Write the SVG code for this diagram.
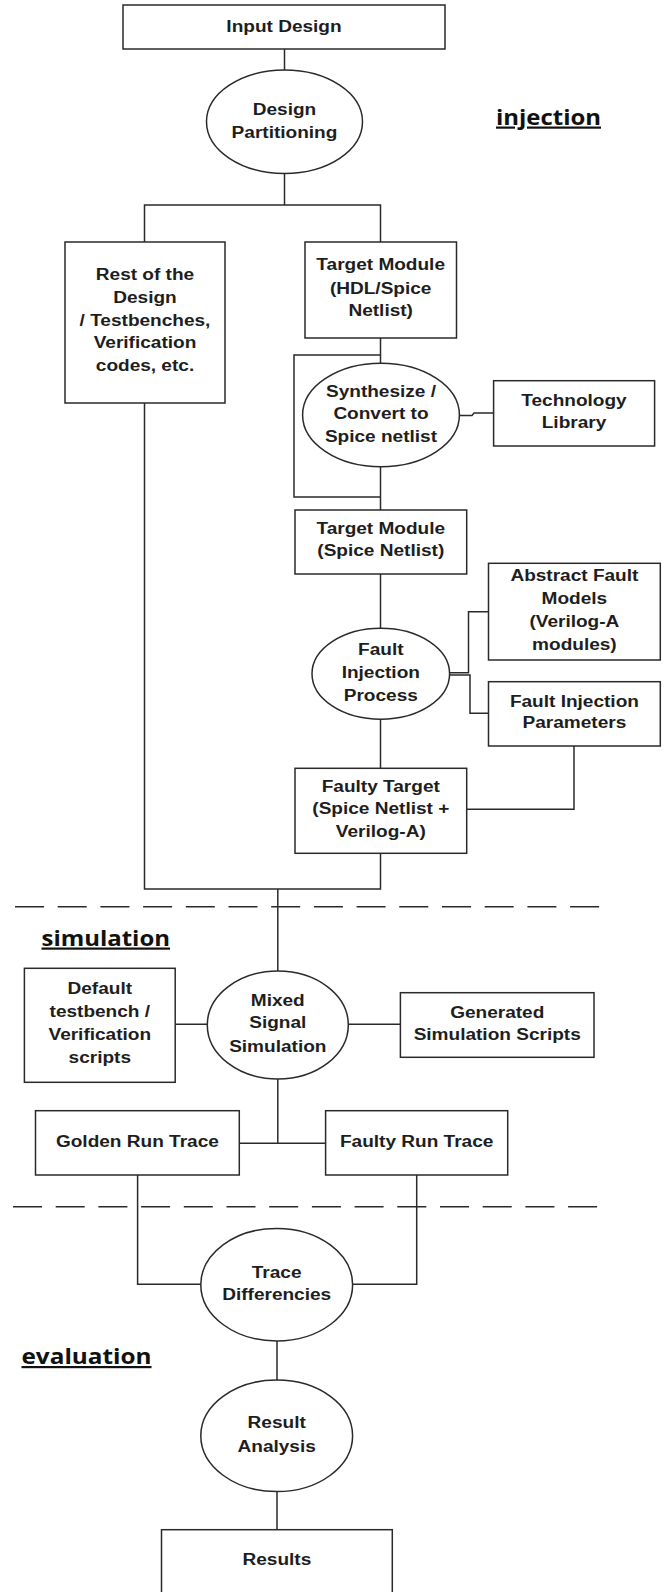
<svg xmlns="http://www.w3.org/2000/svg" width="670" height="1592" viewBox="0 0 670 1592">
<style>
.bg{fill:#ffffff}
.box{fill:#ffffff;stroke:#2a2a2a;stroke-width:1.5}
.conn{fill:none;stroke:#2a2a2a;stroke-width:1.5}
.sep{fill:none;stroke:#2a2a2a;stroke-width:1.5;stroke-dasharray:29 13.7}
.t{font-family:"Liberation Sans",Arial,sans-serif;font-weight:bold;font-size:16px;text-anchor:middle;fill:#1e1e1e;transform-box:fill-box;transform-origin:center;transform:scaleX(1.19)}
.sec{font-family:"Open Sans","Liberation Sans",sans-serif;font-weight:bold;font-size:22px;fill:#111111;text-decoration:underline}
</style>
<rect class="bg" x="0" y="0" width="670" height="1592"/>

<g id="connectors">
<path class="conn" d="M284.5,49 V70"/>
<path class="conn" d="M284.5,173 V205"/>
<path class="conn" d="M144.5,242 V205 H380.5 V242"/>
<path class="conn" d="M380.5,338 V363"/>
<path class="conn" d="M380.5,355 H294 V497 H380.5"/>
<path class="conn" d="M380.5,467 V510"/>
<path class="conn" d="M459.4,415.5 H472 L474,413 H493.6"/>
<path class="conn" d="M380.5,574 V628"/>
<path class="conn" d="M449.6,672.7 H468.5 V611.7 H488.5"/>
<path class="conn" d="M449.6,675 H470 V713.3 H488.5"/>
<path class="conn" d="M380.5,719 V768"/>
<path class="conn" d="M574,746 V809.3 H466.7"/>
<path class="conn" d="M144.5,403 V889 H380.5 V853"/>
<path class="conn" d="M277.8,889 V971"/>
<path class="conn" d="M175.2,1024.3 H207.3"/>
<path class="conn" d="M348.3,1024.3 H400.4"/>
<path class="conn" d="M277.8,1079 V1143.3"/>
<path class="conn" d="M239.3,1143.3 H325.6"/>
<path class="conn" d="M137.6,1175 V1284.3 H201"/>
<path class="conn" d="M416.7,1175 V1284.3 H352.6"/>
<path class="conn" d="M277,1341 V1380"/>
<path class="conn" d="M277,1492 V1530"/>
</g>

<g id="separators">
<path class="sep" d="M15,906.7 H603"/>
<path class="sep" d="M13,1206.7 H603"/>
</g>

<g id="label-injection"><text class="sec" x="496" y="124.5" textLength="105" lengthAdjust="spacingAndGlyphs">injection</text></g>
<g id="label-simulation"><text class="sec" x="41.5" y="945.5" textLength="128.5" lengthAdjust="spacingAndGlyphs">simulation</text></g>
<g id="label-evaluation"><text class="sec" x="21.5" y="1364" textLength="130" lengthAdjust="spacingAndGlyphs">evaluation</text></g>

<g id="input-design">
<rect class="box" x="123" y="5" width="322" height="44"/>
<text class="t" x="284" y="32">Input Design</text>
</g>

<g id="design-partitioning">
<ellipse class="box" cx="284.5" cy="121.7" rx="78" ry="51.7"/>
<text class="t" x="284.5" y="115.5">Design</text>
<text class="t" x="284.5" y="138">Partitioning</text>
</g>

<g id="rest-of-design">
<rect class="box" x="65" y="242" width="160" height="161"/>
<text class="t" x="145" y="280.5">Rest of the</text>
<text class="t" x="145" y="303.5">Design</text>
<text class="t" x="145" y="326">/ Testbenches,</text>
<text class="t" x="145" y="348.5">Verification</text>
<text class="t" x="145" y="371">codes, etc.</text>
</g>

<g id="target-module-hdl">
<rect class="box" x="305" y="242" width="151.5" height="96"/>
<text class="t" x="380.7" y="270.5">Target Module</text>
<text class="t" x="380.7" y="294.5">(HDL/Spice</text>
<text class="t" x="380.7" y="316.5">Netlist)</text>
</g>

<g id="synthesize">
<ellipse class="box" cx="381" cy="415" rx="78.4" ry="51.7"/>
<text class="t" x="381" y="397">Synthesize /</text>
<text class="t" x="381" y="419.5">Convert to</text>
<text class="t" x="381" y="442">Spice netlist</text>
</g>

<g id="technology-library">
<rect class="box" x="493.6" y="380.7" width="161" height="65.3"/>
<text class="t" x="574" y="406">Technology</text>
<text class="t" x="574" y="428.5">Library</text>
</g>

<g id="target-module-spice">
<rect class="box" x="295" y="510" width="171.7" height="64"/>
<text class="t" x="380.8" y="534.5">Target Module</text>
<text class="t" x="380.8" y="556">(Spice Netlist)</text>
</g>

<g id="fault-injection-process">
<ellipse class="box" cx="380.8" cy="673.8" rx="68.8" ry="45.5"/>
<text class="t" x="380.8" y="655.5">Fault</text>
<text class="t" x="380.8" y="678.5">Injection</text>
<text class="t" x="380.8" y="701">Process</text>
</g>

<g id="abstract-fault-models">
<rect class="box" x="488.5" y="563.3" width="171.8" height="96.7"/>
<text class="t" x="574.4" y="581.5">Abstract Fault</text>
<text class="t" x="574.4" y="604.5">Models</text>
<text class="t" x="574.4" y="627.5">(Verilog-A</text>
<text class="t" x="574.4" y="650">modules)</text>
</g>

<g id="fault-injection-parameters">
<rect class="box" x="488.5" y="681.7" width="171.8" height="64.3"/>
<text class="t" x="574.4" y="707">Fault Injection</text>
<text class="t" x="574.4" y="728.5">Parameters</text>
</g>

<g id="faulty-target">
<rect class="box" x="295" y="768.3" width="171.7" height="85"/>
<text class="t" x="380.8" y="792">Faulty Target</text>
<text class="t" x="380.8" y="814.5">(Spice Netlist +</text>
<text class="t" x="380.8" y="837">Verilog-A)</text>
</g>

<g id="default-testbench">
<rect class="box" x="24.4" y="968.3" width="150.8" height="114"/>
<text class="t" x="99.8" y="994.5">Default</text>
<text class="t" x="99.8" y="1017.5">testbench /</text>
<text class="t" x="99.8" y="1040">Verification</text>
<text class="t" x="99.8" y="1063.5">scripts</text>
</g>

<g id="mixed-signal-simulation">
<ellipse class="box" cx="277.8" cy="1025" rx="70.5" ry="54"/>
<text class="t" x="277.8" y="1006">Mixed</text>
<text class="t" x="277.8" y="1028.5">Signal</text>
<text class="t" x="277.8" y="1052">Simulation</text>
</g>

<g id="generated-simulation-scripts">
<rect class="box" x="400.4" y="992.7" width="193.6" height="64.6"/>
<text class="t" x="497.2" y="1018">Generated</text>
<text class="t" x="497.2" y="1040.5">Simulation Scripts</text>
</g>

<g id="golden-run-trace">
<rect class="box" x="35.5" y="1110.7" width="203.8" height="64.3"/>
<text class="t" x="137.4" y="1147">Golden Run Trace</text>
</g>

<g id="faulty-run-trace">
<rect class="box" x="325.6" y="1110.7" width="182.1" height="64.3"/>
<text class="t" x="416.7" y="1147">Faulty Run Trace</text>
</g>

<g id="trace-differencies">
<ellipse class="box" cx="276.7" cy="1284.7" rx="75.9" ry="56.3"/>
<text class="t" x="276.7" y="1278">Trace</text>
<text class="t" x="276.7" y="1300.5">Differencies</text>
</g>

<g id="result-analysis">
<ellipse class="box" cx="276.7" cy="1435.8" rx="75.9" ry="55.8"/>
<text class="t" x="276.7" y="1428.5">Result</text>
<text class="t" x="276.7" y="1452">Analysis</text>
</g>

<g id="results">
<rect class="box" x="161.5" y="1529.7" width="230.8" height="80"/>
<text class="t" x="276.9" y="1565.5">Results</text>
</g>
</svg>
